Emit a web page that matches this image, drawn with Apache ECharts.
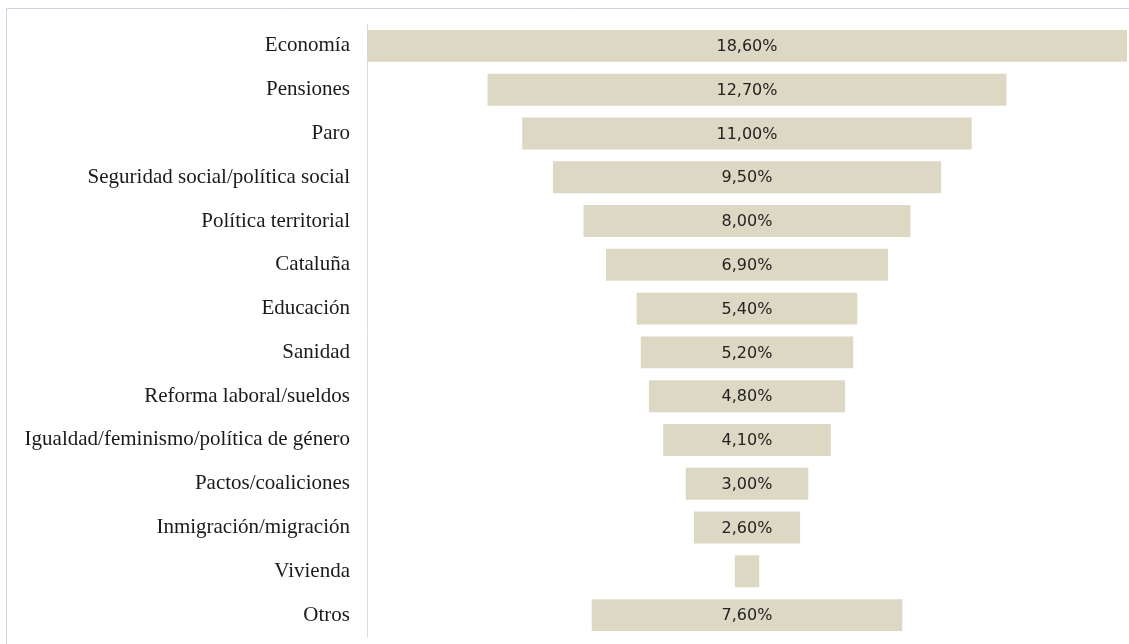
<!DOCTYPE html>
<html>
<head>
<meta charset="utf-8">
<script src="https://cdn.jsdelivr.net/npm/echarts@6/dist/echarts.min.js"></script>
<style>html,body{margin:0;padding:0;background:#fff;}#c{width:1129px;height:644px;}</style>
</head>
<body>
<div id="c"></div>
<script>
const categories = ["Economía","Pensiones","Paro","Seguridad social/política social","Política territorial","Cataluña","Educación","Sanidad","Reforma laboral/sueldos","Igualdad/feminismo/política de género","Pactos/coaliciones","Inmigración/migración","Vivienda","Otros"];
const values = [18.6,12.7,11.0,9.5,8.0,6.9,5.4,5.2,4.8,4.1,3.0,2.6,0.6,7.6];
const showLabel = [true,true,true,true,true,true,true,true,true,true,true,true,false,true];

const maxV = Math.max(...values);
const offsets = values.map(v => (maxV - v) / 2);

const chart = echarts.init(document.getElementById('c'), null, {renderer:'canvas'});
chart.setOption({
  animation:false,
  graphic:[{type:'rect', shape:{x:6.5,y:8.5,width:1300,height:800}, style:{fill:'none', stroke:'#cdd6e2', lineWidth:1}, silent:true, z:-1}],
  grid:{left:367, right:2, top:24, bottom:7},
  xAxis:{type:'value', min:0, max:maxV, show:false},
  yAxis:{type:'category', data:categories, inverse:true,
    axisLine:{show:true, lineStyle:{color:'#d3deea', width:1}},
    axisTick:{show:false},
    axisLabel:{fontFamily:'Liberation Serif', fontSize:21, color:'#1a1a1a', margin:17}
  },
  series:[
    {type:'bar', stack:'s', data:offsets, itemStyle:{color:'transparent'}, barWidth:'73%', silent:true},
    {type:'bar', stack:'s', barWidth:'73%',
      data:values.map((v,i)=>({value:v, label:{show:showLabel[i]}})),
      itemStyle:{color:'#dcd8c3'},
      label:{show:true, position:'inside', fontFamily:'DejaVu Sans', fontSize:16, color:'#222', offset:[0,1],
        formatter:p=>p.value.toFixed(2).replace('.',',')+'%'}
    }
  ]
});
</script>
</body>
</html>
